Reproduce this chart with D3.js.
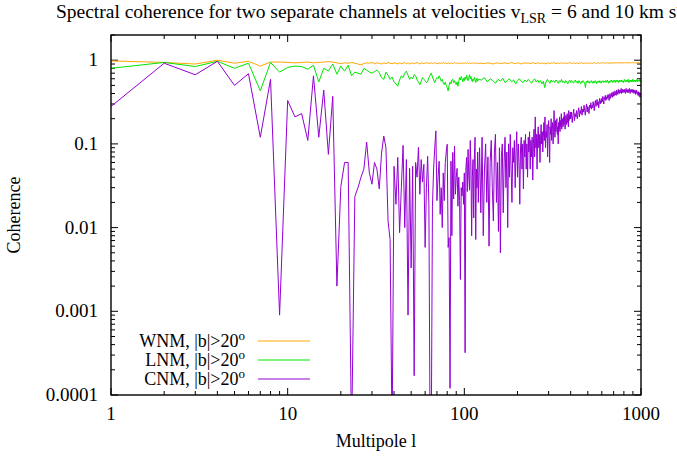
<!DOCTYPE html>
<html>
<head>
<meta charset="utf-8">
<script src="https://cdn.jsdelivr.net/npm/d3@7"></script>
<style>
body { margin: 0; background: #fff; }
text { font-family: "Liberation Serif", "Times New Roman", serif; fill: #000; }
</style>
</head>
<body>
<svg id="chart" width="677" height="457"></svg>
<script>
// multipole grids: every l up to 120, then sparser
const lowEll = d3.range(1, 121);
const highEll = d3.range(125, 1001, 5);
const cnmMidEll = d3.range(122, 400, 2);
const cnmHighEll = d3.range(400, 1001, 4);

const wnmLow = [0.98,0.94,0.90,1.00,0.92,0.97,0.85,0.95,0.95,0.94,
  0.93,0.94,0.95,0.93,0.94,0.95,0.96,0.95,0.93,0.91,
  0.93,0.92,0.94,0.92,0.90,0.88,0.91,0.93,0.92,0.94,
  0.91,0.93,0.92,0.90,0.93,0.91,0.94,0.92,0.91,0.93,
  0.92,0.90,0.93,0.91,0.92,0.94,0.91,0.93,0.90,0.92,
  0.93,0.91,0.92,0.94,0.92,0.90,0.93,0.92,0.91,0.93,
  0.92,0.94,0.91,0.92,0.93,0.91,0.92,0.94,0.92,0.90,
  0.93,0.92,0.91,0.93,0.92,0.94,0.91,0.93,0.92,0.91,
  0.93,0.92,0.90,0.92,0.93,0.91,0.92,0.94,0.92,0.91,
  0.93,0.92,0.91,0.93,0.92,0.90,0.92,0.93,0.91,0.92,
  0.93,0.91,0.92,0.94,0.92,0.91,0.93,0.92,0.91,0.92,
  0.93,0.92,0.91,0.93,0.92,0.91,0.92,0.93,0.92,0.91];
const wnmHigh = [0.92,0.91,0.93,0.92,0.90,0.92,0.93,0.91,0.92,0.93,
  0.91,0.92,0.94,0.92,0.91,0.93,0.92,0.90,0.92,0.93,
  0.92,0.93,0.91,0.92,0.94,0.91,0.92,0.93,0.92,0.91,
  0.93,0.91,0.92,0.90,0.93,0.92,0.91,0.93,0.92,0.94,
  0.92,0.91,0.93,0.92,0.91,0.93,0.92,0.93,0.91,0.92,
  0.93,0.92,0.91,0.93,0.94,0.92,0.91,0.92,0.93,0.92,
  0.91,0.93,0.92,0.92,0.91,0.93,0.92,0.94,0.92,0.91,
  0.92,0.93,0.91,0.92,0.93,0.92,0.91,0.93,0.92,0.93,
  0.92,0.91,0.93,0.92,0.94,0.92,0.93,0.91,0.92,0.93,
  0.93,0.92,0.91,0.93,0.92,0.93,0.94,0.92,0.93,0.92,
  0.92,0.93,0.92,0.94,0.93,0.92,0.93,0.91,0.93,0.92,
  0.93,0.92,0.94,0.93,0.92,0.93,0.92,0.94,0.93,0.92,
  0.94,0.93,0.92,0.93,0.94,0.92,0.93,0.93,0.92,0.94,
  0.93,0.92,0.94,0.93,0.93,0.92,0.94,0.93,0.92,0.93,
  0.94,0.93,0.92,0.94,0.93,0.93,0.94,0.92,0.93,0.94,
  0.93,0.94,0.93,0.92,0.94,0.93,0.94,0.93,0.92,0.93,
  0.94,0.93,0.93,0.94,0.92,0.93,0.94,0.93,0.94,0.93,
  0.93,0.94,0.93,0.92,0.94,0.93];

const lnmLow = [0.80,0.94,0.84,0.97,0.80,0.92,0.43,0.94,0.72,0.82,
  0.85,0.84,0.78,0.87,0.55,0.80,0.74,0.90,0.68,0.85,
  0.74,0.87,0.65,0.72,0.70,0.68,0.80,0.76,0.72,0.70,
  0.73,0.76,0.71,0.62,0.59,0.72,0.66,0.59,0.63,0.55,
  0.52,0.49,0.58,0.65,0.62,0.70,0.74,0.66,0.59,0.63,
  0.60,0.67,0.65,0.58,0.55,0.51,0.56,0.62,0.59,0.57,
  0.54,0.56,0.62,0.66,0.70,0.63,0.58,0.54,0.59,0.62,
  0.60,0.65,0.61,0.56,0.59,0.54,0.51,0.55,0.50,0.47,
  0.43,0.50,0.55,0.52,0.58,0.59,0.54,0.57,0.53,0.51,
  0.55,0.49,0.56,0.62,0.58,0.64,0.60,0.55,0.61,0.57,
  0.63,0.59,0.66,0.61,0.57,0.62,0.67,0.60,0.64,0.58,
  0.55,0.60,0.57,0.62,0.59,0.54,0.58,0.61,0.56,0.59];
const lnmHigh = [0.58,0.62,0.55,0.60,0.57,0.53,0.59,0.56,0.61,0.54,
  0.57,0.60,0.55,0.58,0.52,0.57,0.60,0.56,0.54,0.58,
  0.55,0.59,0.56,0.53,0.57,0.60,0.55,0.58,0.54,0.57,
  0.52,0.56,0.47,0.55,0.59,0.56,0.53,0.58,0.55,0.57,
  0.54,0.58,0.56,0.53,0.57,0.55,0.59,0.54,0.56,0.53,
  0.57,0.55,0.52,0.56,0.58,0.54,0.57,0.55,0.53,0.56,
  0.58,0.54,0.56,0.53,0.57,0.55,0.52,0.56,0.54,0.57,
  0.55,0.53,0.47,0.56,0.54,0.57,0.55,0.53,0.56,0.54,
  0.57,0.55,0.53,0.56,0.54,0.57,0.55,0.52,0.56,0.54,
  0.56,0.54,0.57,0.55,0.53,0.56,0.55,0.57,0.54,0.56,
  0.55,0.57,0.54,0.56,0.58,0.55,0.53,0.56,0.54,0.57,
  0.55,0.58,0.56,0.54,0.57,0.55,0.58,0.56,0.54,0.57,
  0.56,0.58,0.55,0.57,0.54,0.56,0.58,0.55,0.57,0.56,
  0.58,0.55,0.57,0.56,0.54,0.57,0.59,0.56,0.55,0.57,
  0.56,0.58,0.55,0.57,0.59,0.56,0.54,0.57,0.55,0.58,
  0.56,0.58,0.55,0.57,0.56,0.59,0.55,0.57,0.58,0.56,
  0.57,0.55,0.58,0.56,0.59,0.57,0.55,0.58,0.56,0.57,
  0.58,0.56,0.59,0.57,0.55,0.58];

const cnmLow = [0.28,0.92,0.67,0.97,0.50,0.69,0.12,0.59,0.0009,0.33,
  0.21,0.23,0.11,0.65,0.12,0.44,0.075,0.37,0.002,0.031,
  0.06,0.06,0.00003,0.0235,0.03,0.04,0.05,0.105,0.045,0.033,
  0.06,0.05,0.029,0.078,0.124,0.09,0.012,0.0072,0.00003,0.054,
  0.019,0.069,0.0087,0.03,0.096,0.01,0.065,0.0009,0.051,0.0033,
  0.054,0.00017,0.06,0.04,0.091,0.025,0.065,0.035,0.057,0.0058,
  0.03,0.071,0.019,0.00003,0.00003,0.018,0.05,0.09,0.143,0.021,
  0.04,0.062,0.0144,0.03,0.01,0.045,0.021,0.06,0.08,0.099,
  0.0058,0.0076,0.00012,0.062,0.008,0.079,0.022,0.094,0.025,0.04,
  0.051,0.018,0.04,0.021,0.0024,0.03,0.024,0.035,0.019,0.045,
  0.00032,0.05,0.069,0.027,0.086,0.04,0.028,0.11,0.054,0.008,
  0.04,0.065,0.013,0.07,0.12,0.0072,0.05,0.03,0.08,0.02];
const cnmMid = [0.09,0.015,0.12,0.008,0.05,0.1,0.02,0.07,0.006,0.06,
  0.11,0.03,0.012,0.08,0.13,0.02,0.06,0.009,0.09,0.005,
  0.07,0.1,0.015,0.06,0.12,0.03,0.08,0.01,0.1,0.04,
  0.13,0.05,0.02,0.09,0.06,0.11,0.03,0.08,0.14,0.04,
  0.1,0.06,0.019,0.09,0.12,0.05,0.1,0.029,0.11,0.07,
  0.13,0.05,0.1,0.04,0.12,0.08,0.14,0.05,0.11,0.07,
  0.12,0.037,0.1,0.15,0.07,0.21,0.09,0.13,0.05,0.12,
  0.16,0.09,0.13,0.06,0.11,0.17,0.1,0.14,0.08,0.12,
  0.18,0.11,0.21,0.09,0.14,0.12,0.17,0.07,0.15,0.19,
  0.12,0.06,0.16,0.13,0.2,0.11,0.15,0.18,0.1,0.14,
  0.25,0.15,0.12,0.19,0.14,0.17,0.2,0.13,0.16,0.1,
  0.18,0.15,0.21,0.14,0.19,0.16,0.23,0.15,0.18,0.2,
  0.16,0.21,0.17,0.24,0.18,0.15,0.2,0.22,0.17,0.19,
  0.23,0.18,0.21,0.16,0.25,0.19,0.22,0.2,0.24];
const cnmHigh = [0.2,0.24,0.18,0.22,0.26,0.19,0.23,0.21,0.25,0.2,
  0.24,0.27,0.21,0.25,0.23,0.28,0.22,0.26,0.24,0.29,
  0.25,0.22,0.27,0.3,0.24,0.28,0.26,0.23,0.29,0.27,
  0.31,0.26,0.29,0.27,0.32,0.28,0.25,0.3,0.33,0.28,
  0.3,0.34,0.29,0.32,0.27,0.31,0.35,0.3,0.33,0.31,
  0.35,0.32,0.37,0.33,0.3,0.36,0.34,0.38,0.33,0.36,
  0.34,0.38,0.35,0.39,0.36,0.33,0.37,0.4,0.35,0.38,
  0.37,0.41,0.36,0.39,0.42,0.37,0.4,0.38,0.43,0.39,
  0.41,0.38,0.44,0.4,0.42,0.39,0.45,0.41,0.43,0.4,
  0.44,0.41,0.43,0.46,0.4,0.43,0.41,0.45,0.42,0.44,
  0.41,0.45,0.42,0.44,0.4,0.43,0.46,0.42,0.44,0.41,
  0.43,0.45,0.41,0.44,0.42,0.46,0.43,0.4,0.44,0.42,
  0.45,0.42,0.44,0.41,0.43,0.45,0.42,0.44,0.4,0.43,
  0.41,0.44,0.42,0.39,0.43,0.41,0.44,0.4,0.42,0.39,
  0.41,0.38,0.42,0.4,0.37,0.41,0.39,0.36,0.4,0.38,
  0.37];

const seriesNames = ["WNM", "LNM", "CNM"];
const seriesColors = ["#ffa500", "#00e600", "#9400d3"];
const xTicks = [1, 10, 100, 1000];
const yTicks = [0.0001, 0.001, 0.01, 0.1, 1];
const yTickLabels = ["0.0001", "0.001", "0.01", "0.1", "1"];

const series = [
  { ell: lowEll.concat(highEll), v: wnmLow.concat(wnmHigh) },
  { ell: lowEll.concat(highEll), v: lnmLow.concat(lnmHigh) },
  { ell: lowEll.concat(cnmMidEll, cnmHighEll), v: cnmLow.concat(cnmMid, cnmHigh) }
];

const mLeft = 111, mRight = 641, mTop = 35, mBottom = 395;
const svg = d3.select("#chart");

const x = d3.scaleLog().domain([1, 1000]).range([mLeft, mRight]);
const y = d3.scaleLog().domain([0.0001, 2]).range([mBottom, mTop]);

svg.append("clipPath").attr("id", "plotClip")
  .append("rect").attr("x", mLeft).attr("y", mTop)
  .attr("width", mRight - mLeft).attr("height", mBottom - mTop);

// minor tick positions
let xMinor = [], yMinor = [];
[1, 10, 100].forEach(d => { for (let k = 2; k <= 9; k++) xMinor.push(d * k); });
[0.0001, 0.001, 0.01, 0.1, 1].forEach(d => { for (let k = 2; k <= 9; k++) if (d * k <= 2) yMinor.push(d * k); });

const ticks = svg.append("g").attr("stroke", "#000").attr("stroke-width", 1);
function hTick(v, len) {
  ticks.append("line").attr("x1", mLeft).attr("x2", mLeft + len).attr("y1", y(v)).attr("y2", y(v));
  ticks.append("line").attr("x1", mRight).attr("x2", mRight - len).attr("y1", y(v)).attr("y2", y(v));
}
function vTick(v, len) {
  ticks.append("line").attr("x1", x(v)).attr("x2", x(v)).attr("y1", mBottom).attr("y2", mBottom - len);
  ticks.append("line").attr("x1", x(v)).attr("x2", x(v)).attr("y1", mTop).attr("y2", mTop + len);
}
yTicks.forEach(v => hTick(v, 7));
yMinor.forEach(v => hTick(v, 4));
xTicks.forEach(v => vTick(v, 7));
xMinor.forEach(v => vTick(v, 4));

// tick labels
svg.append("g").selectAll("text").data(yTicks).join("text")
  .attr("x", mLeft - 13).attr("y", d => y(d) + 6)
  .attr("text-anchor", "end").attr("font-size", 19)
  .text((d, i) => yTickLabels[i]);
svg.append("g").selectAll("text").data(xTicks).join("text")
  .attr("x", d => x(d)).attr("y", mBottom + 25)
  .attr("text-anchor", "middle").attr("font-size", 19)
  .text(d => d);

// data lines
const line = d3.line().x(d => x(d[0])).y(d => y(d[1]));
svg.append("g").attr("clip-path", "url(#plotClip)")
  .selectAll("path").data(series).join("path")
  .attr("d", s => line(s.ell.map((l, i) => [l, s.v[i]])))
  .attr("fill", "none")
  .attr("stroke", (d, i) => seriesColors[i])
  .attr("stroke-width", 1);

// frame
svg.append("rect").attr("x", mLeft).attr("y", mTop)
  .attr("width", mRight - mLeft).attr("height", mBottom - mTop)
  .attr("fill", "none").attr("stroke", "#000").attr("stroke-width", 1.4);

// legend
const legend = svg.append("g");
seriesNames.forEach((name, i) => {
  const ly = 341 + i * 19;
  const t = legend.append("text").attr("x", 245).attr("y", ly + 6)
    .attr("text-anchor", "end").attr("font-size", 18);
  t.append("tspan").text(name + ", |b|>20");
  t.append("tspan").attr("dy", -7).attr("font-size", 13).text("o");
  legend.append("line").attr("x1", 258).attr("x2", 310).attr("y1", ly).attr("y2", ly)
    .attr("stroke", seriesColors[i]).attr("stroke-width", 1);
});

// title and axis labels (the title runs past the right edge, as in the original)
const title = svg.append("text").attr("x", 372).attr("y", 18)
  .attr("text-anchor", "middle").attr("font-size", 19.5);
title.append("tspan").text("Spectral coherence for two separate channels at velocities v");
title.append("tspan").attr("dy", 5).attr("font-size", 14).text("LSR");
title.append("tspan").attr("dy", -5).text(" = 6 and 10 km s");
title.append("tspan").attr("dy", -7).attr("font-size", 14).text("-1");

svg.append("text").attr("x", (mLeft + mRight) / 2).attr("y", 447)
  .attr("text-anchor", "middle").attr("font-size", 18).text("Multipole l");
svg.append("text").attr("transform", "translate(20," + ((mTop + mBottom) / 2) + ") rotate(-90)")
  .attr("text-anchor", "middle").attr("font-size", 18).text("Coherence");
</script>
</body>
</html>
